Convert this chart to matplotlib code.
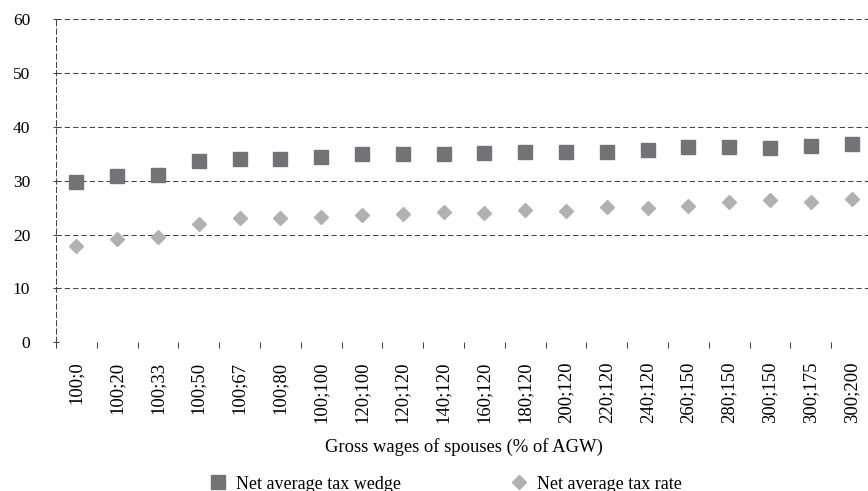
import matplotlib.pyplot as plt
import numpy as np

# wage combinations of the two spouses (% of AGW)
categories = ["100;0", "100;20", "100;33", "100;50", "100;67", "100;80",
              "100;100", "120;100", "120;120", "140;120", "160;120", "180;120",
              "200;120", "220;120", "240;120", "260;150", "280;150", "300;150",
              "300;175", "300;200"]

tax_wedge = [29.7, 30.8, 31.1, 33.6, 34.1, 34.1, 34.4, 34.9, 35.0, 35.0,
             35.2, 35.4, 35.4, 35.4, 35.7, 36.3, 36.3, 36.1, 36.5, 36.8]

tax_rate = [17.8, 19.1, 19.6, 21.9, 23.0, 23.1, 23.2, 23.6, 23.8, 24.2,
            23.9, 24.6, 24.3, 25.1, 25.0, 25.2, 26.1, 26.4, 26.1, 26.5]

plt.rcParams['font.family'] = ['Liberation Serif', 'DejaVu Serif']

fig = plt.figure(figsize=(8.68, 4.91), dpi=100)
ax = fig.add_axes([0.0645, 0.3029, 0.9401, 0.6585])

x = np.arange(len(categories))
dash = (0, (5, 3))
gridcol = '#444444'

# horizontal grid (includes the zero line)
for v in range(0, 61, 10):
    ax.axhline(v, color=gridcol, lw=0.75, linestyle=dash, zorder=1)

ax.plot(x, tax_wedge, 's', color='#737377', markersize=10, zorder=3,
        label='Net average tax wedge')
ax.plot(x, tax_rate, 'D', color='#b1b1b3', markersize=7.4, zorder=3,
        label='Net average tax rate')

ax.set_xlim(-0.5, len(categories) - 0.5)
ax.set_ylim(0, 60)

for s in ['top', 'right', 'bottom']:
    ax.spines[s].set_visible(False)
ax.spines['left'].set_color(gridcol)
ax.spines['left'].set_linewidth(0.75)
ax.spines['left'].set_linestyle(dash)

ax.set_yticks(range(0, 61, 10))
ax.tick_params(axis='y', direction='inout', length=5, width=0.75,
               color=gridcol, pad=16, labelsize=12.5)

ax.set_xticks(x)
ax.set_xticklabels(categories, rotation=90, fontsize=13.5)
ax.set_xticks(np.arange(len(categories) + 1) - 0.5, minor=True)
ax.tick_params(axis='x', which='major', length=0, pad=14)
ax.tick_params(axis='x', which='minor', direction='out', length=4,
               width=0.75, color=gridcol)

ax.set_xlabel('Gross wages of spouses (% of AGW)', fontsize=13.4, labelpad=11)

fig.legend(loc='lower left', bbox_to_anchor=(0.235, -0.018), ncol=2,
           frameon=False, fontsize=13, handlelength=0.8, handletextpad=0.6,
           columnspacing=6.1, borderaxespad=0)

fig.savefig('out.png', dpi=100)
